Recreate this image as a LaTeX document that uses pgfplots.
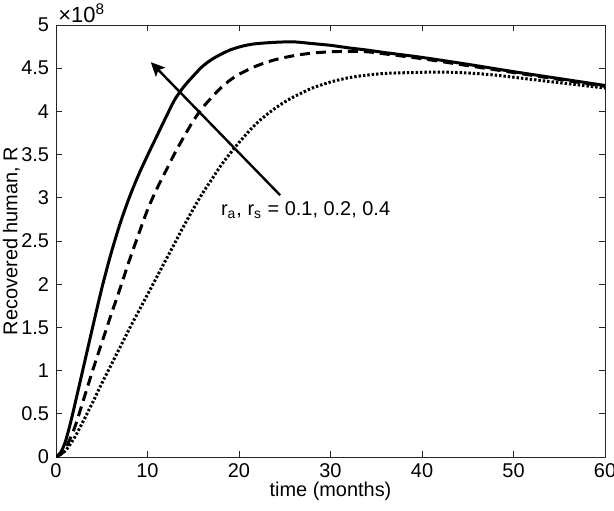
\documentclass[border=0pt]{standalone}
\usepackage{fontspec}
\setmainfont{Liberation Sans}
\usepackage{pgfplots}
\pgfplotsset{compat=1.18}
\usetikzlibrary{arrows.meta}

% R(t) in units of 1e8
\pgfplotstableread{
t     R
0     0
0.5   0.05
1     0.17
1.5   0.36
2     0.58
3     1.04
4     1.50
5     1.95
6     2.35
7     2.70
8     3.00
9     3.26
10    3.49
11    3.71
12    3.93
13    4.14
14    4.29
15    4.41
16    4.52
17    4.60
18    4.66
19    4.71
20    4.745
21    4.77
22    4.785
24    4.80
26    4.805
28    4.785
30    4.765
32    4.735
34    4.71
36    4.68
40    4.625
45    4.545
50    4.46
55    4.38
60    4.30
}\solid
\pgfplotstableread{
t     R
0     0
0.5   0.03
1     0.09
2     0.33
3     0.66
4     1.00
5     1.32
6     1.64
7     1.95
8     2.27
9     2.57
10    2.86
11    3.10
12    3.31
13    3.52
14    3.71
15    3.89
16    4.04
17    4.16
18    4.27
19    4.36
20    4.43
22    4.53
24    4.60
26    4.645
28    4.675
30    4.69
32    4.695
34    4.69
36    4.665
40    4.61
45    4.53
50    4.45
55    4.37
60    4.29
}\dashed
\pgfplotstableread{
t     R
0     0
1     0.07
2     0.22
3     0.42
4     0.63
5     0.85
6     1.06
7     1.27
8     1.48
9     1.68
10    1.88
11    2.08
12    2.28
13    2.48
14    2.68
15    2.87
16    3.05
17    3.21
18    3.37
19    3.51
20    3.64
21    3.76
22    3.87
23    3.96
24    4.04
25    4.11
26    4.17
27    4.22
28    4.27
30    4.34
32    4.39
34    4.42
36    4.44
39    4.45
42    4.455
45    4.445
48    4.42
52    4.37
56    4.32
60    4.27
}\dotted

\begin{document}
\begin{tikzpicture}
\useasboundingbox (-28bp,-27bp) rectangle (279bp,228.5bp);
\begin{axis}[
  name=ax,
  at={(0,0)}, anchor=south west,
  scale only axis,
  width=274.5bp, height=216bp,
  xmin=0, xmax=60, ymin=0, ymax=5,
  xtick={0,10,...,60},
  ytick={0,0.5,...,5},
  tick align=inside,
  major tick length=3bp,
  axis line style={black!85, line width=0.5bp},
  tick style={black!85, line width=0.5bp},
  tick label style={font=\fontsize{10}{12}\selectfont},
  label style={font=\fontsize{10}{12}\selectfont},
  /pgf/number format/assume math mode=true,
  xlabel={time (months)},
  ylabel={Recovered human, R},
  xlabel style={at={(axis description cs:0.5,-0.08)}, anchor=center},
  ylabel style={at={(axis description cs:-0.081,0.5)}, anchor=center},
  clip=true,
]
\addplot[black, line width=1.5bp, smooth] table[x=t,y=R] {\solid};
\addplot[black, line width=1.5bp, smooth, dash pattern=on 5bp off 3bp] table[x=t,y=R] {\dashed};
\addplot[black, line width=1.5bp, smooth, dash pattern=on 1.2bp off 1bp] table[x=t,y=R] {\dotted};
\draw[black, line width=1.2bp, -{Stealth[length=7bp, width=6.5bp, inset=1.5bp]}] (axis cs:24.5,3.03) -- (axis cs:10.36,4.57);
\node[anchor=base west, font=\fontsize{10}{12}\selectfont, inner sep=0pt] at (axis cs:18,2.79)
  {r\textsubscript{a}, r\textsubscript{s} = 0.1, 0.2, 0.4};
\end{axis}
\node[anchor=south west, font=\fontsize{11}{13}\selectfont, inner sep=0pt] at ([xshift=1bp,yshift=1bp]ax.north west)
  {×10\textsuperscript{8}};
\end{tikzpicture}
\end{document}
